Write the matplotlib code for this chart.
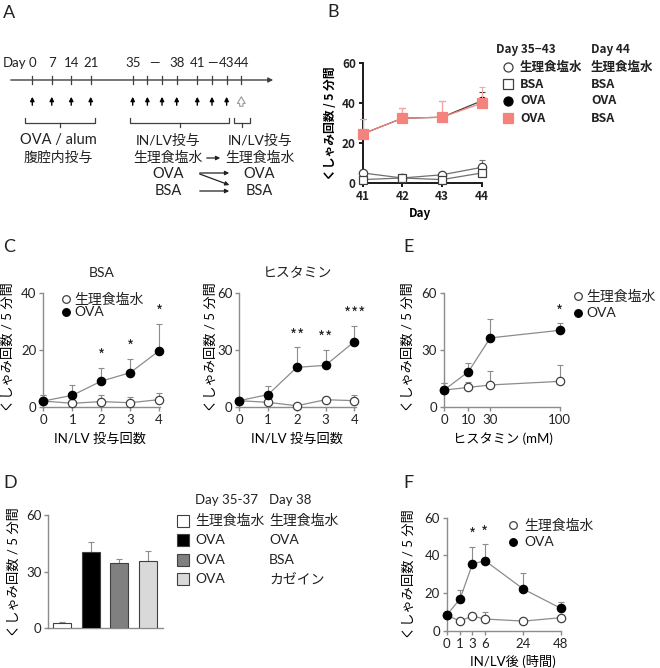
import numpy as np
import matplotlib
matplotlib.use("Agg")
import matplotlib.pyplot as plt

plt.rcParams['font.family'] = ['Lato', 'Noto Sans CJK JP', 'DejaVu Sans']
plt.rcParams['font.size'] = 9
plt.rcParams['text.color'] = '#222222'

W, H = 660, 668

# ---------------- data ----------------
# A : schedule
sched_days = [0, 7, 14, 21, 35, 36, 37, 38, 41, 42, 43, 44]
sched_labels = ['0', '7', '14', '21', '35', '—', '38', '41', '—', '43', '44']
sched_label_days = [0, 7, 14, 21, 35, 36.5, 38, 41, 42, 43, 44]

# B
b_days = [41, 42, 43, 44]
b_sal = [5.0, 2.5, 4.1, 7.8]
b_sal_err = [1.5, 1.0, 1.0, 3.8]
b_bsa = [1.7, 2.5, 1.7, 5.0]
b_bsa_err = [0.8, 0.5, 0.8, 1.5]
b_ova = [24.5, 32.3, 32.8, 41.0]
b_ova_err = [7.5, 5.3, 8.1, 4.6]
b_ova_bsa = [24.5, 32.3, 32.8, 39.8]
b_ova_bsa_err = [7.5, 5.3, 8.1, 8.0]
b_col1 = ['生理食塩水', 'BSA', 'OVA', 'OVA']
b_col2 = ['生理食塩水', 'BSA', 'OVA', 'BSA']

# C
c_n = [0, 1, 2, 3, 4]
cb_sal = [2.0, 1.2, 1.8, 1.4, 2.5]
cb_sal_err = [2.1, 1.0, 2.2, 2.1, 2.5]
cb_ova = [2.0, 4.0, 9.0, 12.0, 19.7]
cb_ova_err = [2.1, 3.5, 4.7, 5.0, 9.6]
cb_star = ['', '', '*', '*', '*']
ch_sal = [3.2, 2.3, 0.5, 3.7, 3.2]
ch_sal_err = [1.0, 1.0, 0.5, 1.0, 3.0]
ch_ova = [3.2, 6.4, 20.8, 21.9, 34.4]
ch_ova_err = [1.0, 4.4, 10.6, 8.1, 8.3]
ch_star = ['', '', '**', '**', '***']

# D
d_col1 = ['生理食塩水', 'OVA', 'OVA', 'OVA']
d_col2 = ['生理食塩水', 'OVA', 'BSA', 'カゼイン']
d_vals = [3.0, 40.2, 34.8, 35.8]
d_err = [0.5, 5.7, 1.9, 5.2]
d_colors = ['white', 'black', '#808080', '#d9d9d9']

# E
e_conc = [0, 10, 30, 100]
e_sal = [8.8, 10.2, 11.5, 13.4]
e_sal_err = [3.9, 2.9, 7.6, 8.8]
e_ova = [8.8, 18.5, 36.4, 40.4]
e_ova_err = [3.9, 4.8, 9.8, 3.7]
e_star = ['', '', '', '*']

# F
f_hours = [0, 1, 3, 6, 24, 48]
f_sal = [8.3, 5.1, 7.8, 6.2, 5.1, 6.9]
f_sal_err = [1.0, 1.0, 1.5, 3.7, 0.5, 1.0]
f_ova = [8.3, 16.8, 35.4, 37.2, 22.1, 11.9]
f_ova_err = [1.0, 4.8, 9.2, 8.8, 8.3, 3.5]
f_star = ['', '', '*', '*', '', '']

YLAB = 'くしゃみ回数 / 5 分間'
AX = '#8c8c8c'
TXT = '#222222'
JP = ['Noto Sans CJK JP', 'DejaVu Sans']   # panel B uses a bold gothic face

fig = plt.figure(figsize=(6.6, 6.68), dpi=100)

# overlay in pixel coords for the schedule, panel letters and legends
ov = fig.add_axes([0, 0, 1, 1])
ov.set_xlim(0, W)
ov.set_ylim(H, 0)
ov.axis('off')


def px_axes(box):
    x0, y0, x1, y1 = box
    ax = fig.add_axes([x0 / W, 1 - y1 / H, (x1 - x0) / W, (y1 - y0) / H])
    ax.patch.set_alpha(0)
    return ax


def style(ax, color=AX, lw=1.0, size=9.5):
    for s in ['top', 'right']:
        ax.spines[s].set_visible(False)
    for s in ['left', 'bottom']:
        ax.spines[s].set_color(color)
        ax.spines[s].set_linewidth(lw)
    ax.tick_params(colors=color, labelcolor=TXT, length=3, width=lw, labelsize=size, pad=2)


def labels(ax, box, xlab, xpos, ylab, ypos, size=9.5, **kw):
    x0, y0, x1, y1 = box
    if xlab:
        ax.set_xlabel(xlab, va='center', ha='center', fontsize=size, **kw)
        ax.xaxis.set_label_coords((xpos[0] - x0) / (x1 - x0), (y1 - xpos[1]) / (y1 - y0))
    if ylab:
        ax.set_ylabel(ylab, va='center', ha='center', fontsize=size, **kw)
        ax.yaxis.set_label_coords((ypos[0] - x0) / (x1 - x0), (y1 - ypos[1]) / (y1 - y0))


def series(ax, x, y, err, marker='o', mfc='white', mec='#404040', lc='#8c8c8c', ec='#8c8c8c', ms=6, z=3):
    eb = ax.errorbar(x, y, yerr=[np.zeros(len(err)), err], fmt='none', ecolor=ec,
                     elinewidth=0.8, capsize=2.5, capthick=0.8, zorder=z)
    for a in eb.get_children():
        a.set_clip_on(False)
    ax.plot(x, y, color=lc, lw=0.9, marker=marker, ms=ms, mfc=mfc, mec=mec, mew=0.9,
            clip_on=False, zorder=z + 0.5)


def stars(ax, x, y, err, marks):
    for xi, yi, ei, s in zip(x, y, err, marks):
        if s:
            ax.annotate(s, (xi, yi + ei), xytext=(0, 2), textcoords='offset points',
                        ha='center', va='bottom', fontsize=11, family=JP)


def legend_rows(x, ys, markers, texts, tx, ms=5.5, size=10, **kw):
    for y, (m, fc, ec), t in zip(ys, markers, texts):
        ov.plot([x], [y], marker=m, ms=ms, mfc=fc, mec=ec, mew=0.9, ls='none')
        ov.text(tx, y, t, va='center', ha='left', fontsize=size, **kw)


# panel letters
for letter, (lx, ly) in zip('ABCDEF', [(3, 13), (327, 12), (3, 247), (3, 483), (403, 247), (403, 483)]):
    ov.text(lx, ly, letter, fontsize=13, va='center', ha='left', color=TXT)

# ---------------- A: schedule ----------------
day_px = lambda d: np.interp(d, [0, 21, 35, 38, 41, 44], [32.3, 90.7, 132.7, 176.7, 197.3, 241.3])
ov.annotate('', xy=(276, 80), xytext=(8, 80),
            arrowprops=dict(arrowstyle='-|>', color='#404040', lw=1.0, mutation_scale=7))
ov.text(3, 63, 'Day', fontsize=9.5, va='center', ha='left')
for d, lab in zip(sched_label_days, sched_labels):
    ov.text(day_px(d), 63, lab, fontsize=9.5, va='center', ha='center')
for d in sched_days:
    xp = day_px(d)
    ov.plot([xp, xp], [76, 84], color='#404040', lw=0.9)
    if d == 44:
        ov.annotate('', xy=(xp, 94), xytext=(xp, 109),
                    arrowprops=dict(arrowstyle='simple,head_width=0.7,head_length=0.6,tail_width=0.3',
                                    fc='white', ec='#9a9a9a', lw=0.8, mutation_scale=8))
    else:
        ov.annotate('', xy=(xp, 94), xytext=(xp, 108),
                    arrowprops=dict(arrowstyle='-|>', color='black', lw=1.0, mutation_scale=6))


def brace(xa, xb, y=123):
    xc = (xa + xb) / 2
    ov.plot([xa, xa, xb, xb], [118, y, y, 118], color='#404040', lw=0.9)
    ov.plot([xc, xc], [y, y + 4], color='#404040', lw=0.9)


brace(25, 95)
brace(130, 229)
brace(234, 250)
ov.text(58, 140, 'OVA / alum', fontsize=10.5, ha='center', va='center')
ov.text(58, 157, '腹腔内投与', fontsize=10, ha='center', va='center')
ov.text(168, 140, 'IN/LV投与', fontsize=10, ha='center', va='center')
ov.text(168, 157, '生理食塩水', fontsize=10, ha='center', va='center')
ov.text(260, 140, 'IN/LV投与', fontsize=10, ha='center', va='center')
ov.text(260, 157, '生理食塩水', fontsize=10, ha='center', va='center')
ov.text(168, 174, 'OVA', fontsize=10.5, ha='center', va='center')
ov.text(168, 191, 'BSA', fontsize=10.5, ha='center', va='center')
ov.text(259, 174, 'OVA', fontsize=10.5, ha='center', va='center')
ov.text(259, 191, 'BSA', fontsize=10.5, ha='center', va='center')
arr = dict(arrowstyle='-|>', color='#222222', lw=0.9, mutation_scale=6)
ov.annotate('', xy=(223, 158), xytext=(204, 158), arrowprops=arr)
ov.annotate('', xy=(232, 173), xytext=(197, 173), arrowprops=arr)
ov.annotate('', xy=(232, 186), xytext=(197, 173), arrowprops=arr)
ov.annotate('', xy=(232, 191), xytext=(197, 191), arrowprops=arr)

# ---------------- B ----------------
boxB = (362.7, 62.7, 481.7, 183)
axB = px_axes(boxB)
style(axB, color='#1a1a1a', lw=1.4, size=8.5)
pink = '#f4837d'
series(axB, b_days, b_sal, b_sal_err, ms=6, mec='#404040', lc='#707070', ec='#707070')
series(axB, b_days, b_bsa, b_bsa_err, marker='s', ms=6, mec='#404040', lc='#707070', ec='#707070')
series(axB, b_days, b_ova, b_ova_err, mfc='black', mec='black', ms=6, lc='#404040', ec='#404040', z=5)
series(axB, b_days, b_ova_bsa, b_ova_bsa_err, marker='s', mfc=pink, mec=pink, ms=7,
       lc=pink, ec='#f6a7a3', z=7)
axB.set_xlim(41, 44)
axB.set_ylim(0, 60)
axB.set_xticks(b_days)
axB.set_yticks([0, 20, 40, 60])
for t in axB.get_xticklabels() + axB.get_yticklabels():
    t.set_fontweight('bold')
    t.set_family(JP)
labels(axB, boxB, 'Day', (420, 213), YLAB, (330, 123), size=8.5, fontweight='bold', family=JP)
ov.text(496, 50, 'Day 35−43', fontsize=8.5, fontweight='bold', va='center', family=JP)
ov.text(591, 50, 'Day 44', fontsize=8.5, fontweight='bold', va='center', family=JP)
legend_rows(508, [67, 84, 101, 118.3],
            [('o', 'white', '#404040'), ('s', 'white', '#404040'),
             ('o', 'black', 'black'), ('s', pink, pink)],
            b_col1, 520, ms=6.5, size=9, fontweight='bold', family=JP)
for y, t in zip([67, 84, 101, 118.3], b_col2):
    ov.text(591, y, t, va='center', ha='left', fontsize=9, fontweight='bold', family=JP)

# ---------------- C (BSA) ----------------
boxC1 = (43.3, 293.3, 160, 406.7)
axC1 = px_axes(boxC1)
style(axC1)
series(axC1, c_n, cb_sal, cb_sal_err)
series(axC1, c_n, cb_ova, cb_ova_err, mfc='black', mec='black', z=5)
stars(axC1, c_n, cb_ova, cb_ova_err, cb_star)
axC1.set_xlim(0, 4.03)
axC1.set_ylim(0, 40)
axC1.set_xticks(c_n)
axC1.set_yticks([0, 20, 40])
axC1.set_title('BSA', fontsize=10, y=(406.7 - 273.3) / 113.4, va='center', pad=0)
labels(axC1, boxC1, 'IN/LV 投与回数', (100.3, 438.3), YLAB, (8, 347))
legend_rows(65.7, [299.3, 312.3], [('o', 'white', '#404040'), ('o', 'black', 'black')],
            ['生理食塩水', 'OVA'], 74)

# ---------------- C (histamine) ----------------
boxC2 = (239.3, 293.3, 356, 406.7)
axC2 = px_axes(boxC2)
style(axC2)
series(axC2, c_n, ch_sal, ch_sal_err)
series(axC2, c_n, ch_ova, ch_ova_err, mfc='black', mec='black', z=5)
stars(axC2, c_n, ch_ova, ch_ova_err, ch_star)
axC2.set_xlim(0, 4.06)
axC2.set_ylim(0, 60)
axC2.set_xticks(c_n)
axC2.set_yticks([0, 30, 60])
axC2.set_title('ヒスタミン', fontsize=10, y=(406.7 - 273.3) / 113.4, va='center', pad=0)
labels(axC2, boxC2, 'IN/LV 投与回数', (296.7, 438.3), YLAB, (211, 347))

# ---------------- E ----------------
e_pos = [0, 24.3, 46, 115]   # uneven spacing of the concentration axis
boxE = (444, 293.3, 559.5, 406.7)
axE = px_axes(boxE)
axE.set_xscale('function', functions=(lambda v: np.interp(v, e_conc, e_pos),
                                      lambda v: np.interp(v, e_pos, e_conc)))
style(axE)
series(axE, e_conc, e_sal, e_sal_err)
series(axE, e_conc, e_ova, e_ova_err, mfc='black', mec='black', z=5)
stars(axE, e_conc, e_ova, e_ova_err, e_star)
axE.set_xlim(0, 100)
axE.set_ylim(0, 60)
axE.set_xticks(e_conc)
axE.set_xticklabels([str(c) for c in e_conc])
axE.minorticks_off()
axE.set_yticks([0, 30, 60])
labels(axE, boxE, 'ヒスタミン (mM)', (503, 438.3), YLAB, (408, 347))
legend_rows(578.3, [296, 312.7], [('o', 'white', '#404040'), ('o', 'black', 'black')],
            ['生理食塩水', 'OVA'], 586.7)

# ---------------- D ----------------
boxD = (48.3, 515, 163, 628.3)
axD = px_axes(boxD)
style(axD)
xd = np.arange(len(d_vals))
axD.bar(xd, d_vals, width=0.64, color=d_colors, edgecolor='#404040', lw=0.8, zorder=3)
axD.errorbar(xd, d_vals, yerr=[np.zeros(len(d_err)), d_err], fmt='none', ecolor='#8c8c8c',
             elinewidth=0.8, capsize=2.5, capthick=0.8, zorder=2)
axD.set_xlim(-0.49, 3.54)
axD.set_ylim(0, 60)
axD.set_xticks([])
axD.set_yticks([0, 30, 60])
labels(axD, boxD, None, None, YLAB, (14, 572))
ov.text(195, 500, 'Day 35-37', fontsize=9.5, va='center')
ov.text(269, 500, 'Day 38', fontsize=9.5, va='center')
d_rows = [520.7, 540, 559.7, 579]
for y, c, t1, t2 in zip(d_rows, d_colors, d_col1, d_col2):
    ov.plot([182.7], [y], marker='s', ms=8, mfc=c, mec='#404040', mew=0.8, ls='none')
    ov.text(195, y, t1, va='center', ha='left', fontsize=10)
    ov.text(269, y, t2, va='center', ha='left', fontsize=10)

# ---------------- F ----------------
f_pos = [0, 13.3, 25.7, 38.3, 76.7, 114]   # uneven spacing of the time axis
boxF = (446.7, 517.7, 560.7, 630.7)
axF = px_axes(boxF)
axF.set_xscale('function', functions=(lambda v: np.interp(v, f_hours, f_pos),
                                      lambda v: np.interp(v, f_pos, f_hours)))
style(axF)
series(axF, f_hours, f_sal, f_sal_err)
series(axF, f_hours, f_ova, f_ova_err, mfc='black', mec='black', z=5)
stars(axF, f_hours, f_ova, f_ova_err, f_star)
axF.set_xlim(0, 48)
axF.set_ylim(0, 60)
axF.set_xticks(f_hours)
axF.set_xticklabels([str(h) for h in f_hours])
axF.minorticks_off()
axF.set_yticks([0, 20, 40, 60])
labels(axF, boxF, 'IN/LV後 (時間)', (512.5, 661.7), YLAB, (409, 574))
legend_rows(513.3, [525, 541.7], [('o', 'white', '#404040'), ('o', 'black', 'black')],
            ['生理食塩水', 'OVA'], 524.3)

fig.savefig('out.png', dpi=100)
